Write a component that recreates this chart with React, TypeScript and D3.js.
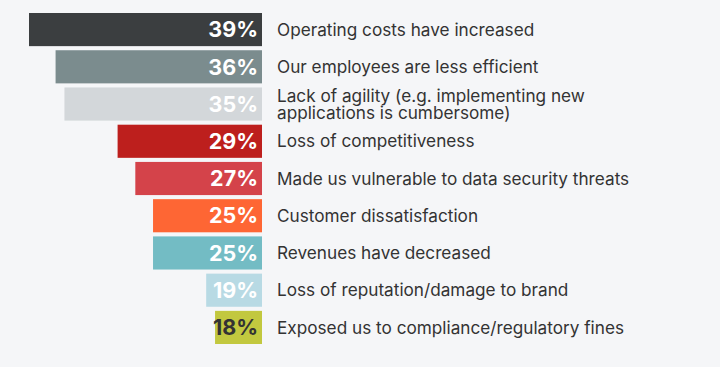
import React, { useEffect, useRef } from 'react';
import * as d3 from 'd3';

const categories = [
  ['Operating costs have increased'],
  ['Our employees are less efficient'],
  ['Lack of agility (e.g. implementing new', 'applications is cumbersome)'],
  ['Loss of competitiveness'],
  ['Made us vulnerable to data security threats'],
  ['Customer dissatisfaction'],
  ['Revenues have decreased'],
  ['Loss of reputation/damage to brand'],
  ['Exposed us to compliance/regulatory fines'],
];
const values = [39, 36, 35, 29, 27, 25, 25, 19, 18];
const colors = ['#3b3e40', '#7b8c8e', '#d3d7da', '#bd1f1d', '#d4434a', '#fe6634', '#73bcc4', '#b8dae4', '#c2c83f'];
const valueColors = ['#fff', '#fff', '#fff', '#fff', '#fff', '#fff', '#fff', '#fff', '#333'];

const W = 720;
const H = 367;
const FONT = 'Inter, "DejaVu Sans", sans-serif';

export default function App() {
  const ref = useRef<SVGSVGElement>(null);

  useEffect(() => {
    const svg = d3.select(ref.current);
    svg.selectAll('*').remove();

    svg.append('rect').attr('width', W).attr('height', H).attr('fill', '#f5f6f8');

    const barEnd = 262;
    // bars start at ~12.7% on the left edge, not at zero
    const x = d3.scaleLinear().domain([12.7, 39]).range([barEnd, 29]);
    const y = d3.scaleBand<number>()
      .domain(d3.range(values.length))
      .range([13, 344])
      .paddingInner(0.11)
      .paddingOuter(0);

    const rows = svg.selectAll('g.row')
      .data(values)
      .enter()
      .append('g')
      .attr('class', 'row');

    rows.append('rect')
      .attr('x', d => x(d))
      .attr('y', (d, i) => y(i)!)
      .attr('width', d => barEnd - x(d))
      .attr('height', y.bandwidth())
      .attr('fill', (d, i) => colors[i]);

    rows.append('text')
      .attr('x', barEnd - 4)
      .attr('y', (d, i) => y(i)! + y.bandwidth() / 2)
      .attr('dy', '0.36em')
      .attr('text-anchor', 'end')
      .attr('font-family', FONT)
      .attr('font-weight', 700)
      .attr('font-size', 21.5)
      .attr('fill', (d, i) => valueColors[i])
      .text(d => d + '%');

    rows.each(function (d, i) {
      const lines = categories[i];
      const t = d3.select(this).append('text')
        .attr('font-family', FONT)
        .attr('font-size', 17.2)
        .attr('fill', '#333')
        .attr('x', 277);
      const mid = y(i)! + y.bandwidth() / 2;
      const lh = 17;
      lines.forEach((line, k) => {
        t.append('tspan')
          .attr('x', 277)
          .attr('y', mid + (k - (lines.length - 1) / 2) * lh)
          .attr('dy', '0.36em')
          .text(line);
      });
    });
  }, []);

  return (
    <svg ref={ref} width={W} height={H} style={{ position: 'absolute', left: 0, top: 0 }} />
  );
}
